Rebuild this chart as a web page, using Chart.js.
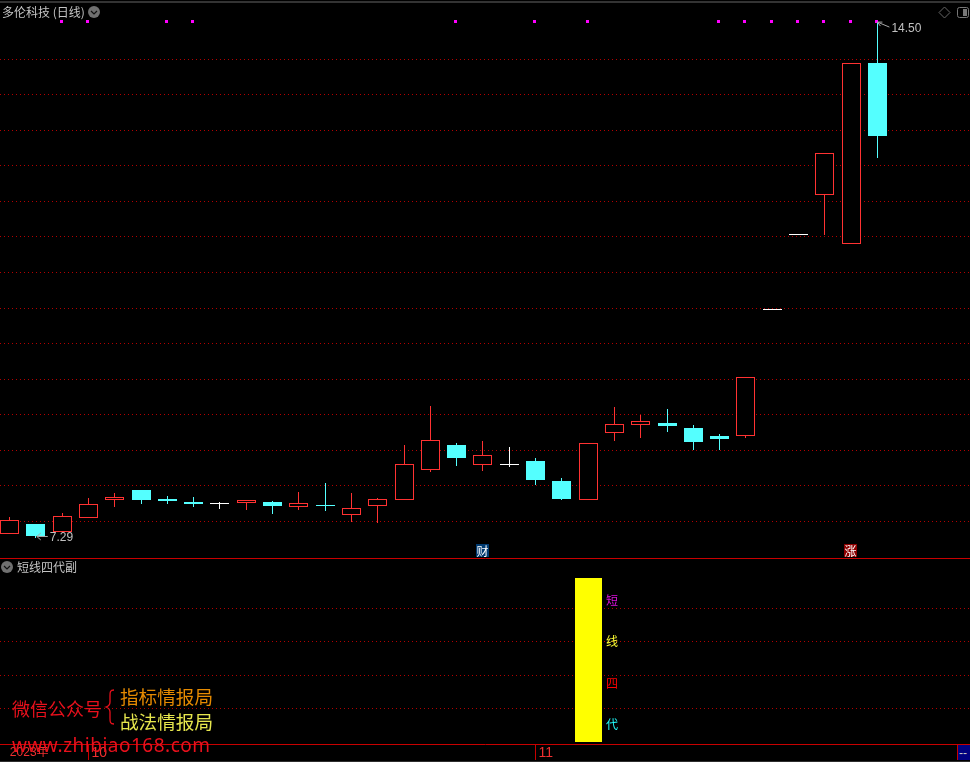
<!DOCTYPE html>
<html>
<head>
<meta charset="utf-8">
<title>多伦科技</title>
<script src="https://cdn.jsdelivr.net/npm/chart.js@4/dist/chart.umd.min.js"></script>
<style>
  html, body { margin: 0; padding: 0; background: #000; overflow: hidden; }
  #page { position: relative; width: 970px; height: 762px; background: #000; overflow: hidden; font-family: "Noto Sans CJK SC", sans-serif; }
  canvas { position: absolute; left: 0; display: block; }
  .txt { position: absolute; white-space: nowrap; line-height: 1; }
  .badge { position: absolute; width: 13px; height: 13px; color: #fff; font-size: 12px; line-height: 13px; text-align: center; }
  svg { position: absolute; overflow: visible; }
</style>
</head>
<body>
<div id="page">
  <canvas id="price-chart" width="970" height="559" style="top:0"></canvas>
  <canvas id="signal-chart" width="970" height="203" style="top:559px"></canvas>

  <div style="position:absolute;left:0;top:1px;width:970px;height:2px;background:#333"></div>
  <div style="position:absolute;left:0;top:761px;width:970px;height:1px;background:#2e2e2e"></div>

  <span class="txt" style="left:2px;top:6px;font-size:12px;color:#c4c4c4">多伦科技 (日线)</span>
  <svg style="left:88px;top:6px" width="12" height="12"><circle cx="6" cy="6" r="6" fill="#707070"/><path d="M3 5l3 3 3-3" fill="none" stroke="#111" stroke-width="1.2"/></svg>
  <svg style="left:939px;top:7px" width="11" height="11"><path d="M5.5 0L11 5.5 5.5 11 0 5.5z" fill="none" stroke="#666"/></svg>
  <svg style="left:957px;top:7px" width="12" height="11"><rect x=".5" y=".5" width="11" height="10" rx="2" fill="none" stroke="#777"/><rect x="6" y="2" width="4" height="7" fill="#777"/></svg>

  <div class="badge" style="left:476px;top:544px;background:#003a70">财</div>
  <div class="badge" style="left:844px;top:544px;background:#8b0000">涨</div>

  <svg style="left:1px;top:561px" width="12" height="12"><circle cx="6" cy="6" r="6" fill="#707070"/><path d="M3 5l3 3 3-3" fill="none" stroke="#111" stroke-width="1.2"/></svg>
  <span class="txt" style="left:17px;top:561px;font-size:12px;color:#c4c4c4">短线四代副</span>

  <span class="txt" style="left:606px;top:594px;font-size:12px;color:#e010e0">短</span>
  <span class="txt" style="left:606px;top:635px;font-size:12px;color:#ffff33">线</span>
  <span class="txt" style="left:606px;top:677px;font-size:12px;color:#ff0000">四</span>
  <span class="txt" style="left:606px;top:718px;font-size:12px;color:#22ffff">代</span>

  <span class="txt" style="left:12px;top:699px;font-size:18px;color:#e8101c">微信公众号</span>
  <svg style="left:105px;top:689px" width="10" height="36"><path d="M9 1C5 1 5 3 5 7V13C5 16 4 17 1 18 4 19 5 20 5 23V29C5 33 5 35 9 35" fill="none" stroke="#e8101c" stroke-width="1.3"/></svg>
  <span class="txt" style="left:120px;top:687px;font-size:18.6px;color:#e68a00">指标情报局</span>
  <span class="txt" style="left:120px;top:712px;font-size:18.6px;color:#e6e64d">战法情报局</span>
  <span class="txt" style="left:12px;top:736px;font-size:19px;letter-spacing:.5px;color:#e8101c;font-family:'Noto Sans',sans-serif">www.zhibiao168.com</span>

  <div style="position:absolute;left:957px;top:745px;width:13px;height:15px;background:#000080;border-left:1px solid #c80000;box-sizing:border-box"></div>
  <span class="txt" style="left:959px;top:747px;font-size:12px;color:#c8c8c8;font-family:'Liberation Sans',sans-serif">--</span>
</div>

<script>
const openPrices  = [7.35, 7.49, 7.37, 7.57, 7.82, 7.96, 7.83, 7.79, 7.76, 7.78, 7.79, 7.72, 7.75, 7.61, 7.74, 7.82, 8.24, 8.59, 8.31, 8.31, 8.36, 8.09, 7.82, 8.75, 8.87, 8.89, 8.82, 8.71, 8.71, 10.47, 11.52, 12.07, 11.39, 13.91];
const closePrices = [7.54, 7.32, 7.60, 7.76, 7.86, 7.82, 7.81, 7.76, 7.76, 7.82, 7.74, 7.78, 7.74, 7.71, 7.83, 8.32, 8.66, 8.41, 8.45, 8.31, 8.10, 7.83, 8.61, 8.88, 8.92, 8.85, 8.63, 8.67, 9.54, 10.47, 11.52, 12.66, 13.91, 12.90];
const highPrices  = [7.58, 7.49, 7.64, 7.85, 7.92, 7.96, 7.88, 7.86, 7.79, 7.82, 7.81, 7.93, 8.06, 7.92, 7.85, 8.59, 9.13, 8.61, 8.64, 8.56, 8.41, 8.13, 8.61, 9.12, 9.01, 9.09, 8.87, 8.74, 9.54, 10.47, 11.52, 12.66, 13.91, 14.50];
const lowPrices   = [7.35, 7.29, 7.36, 7.57, 7.72, 7.76, 7.76, 7.72, 7.69, 7.68, 7.62, 7.68, 7.67, 7.51, 7.50, 7.82, 8.21, 8.29, 8.22, 8.28, 8.03, 7.82, 7.82, 8.64, 8.68, 8.77, 8.52, 8.52, 8.68, 10.47, 11.52, 11.52, 11.39, 12.59];

const priceGrid = [7.52, 8.02, 8.51, 9.01, 9.50, 10.00, 10.49, 10.99, 11.49, 11.98, 12.48, 12.97, 13.47, 13.96];
const priceMin = 7.011, priceMax = 14.794;

const markerDays = [2, 3, 6, 7, 17, 20, 22, 27, 28, 29, 30, 31, 32, 33];
const markerLevel = 14.49;

const signalDays = [22];
const signalValues = [4.91];
const signalGrid = [1, 2, 3, 4];

const timeTickAt = [-0.1, 3, 20];
const timeTickText = ['2023年', '10', '11'];

const RED = '#ff3232', CYAN = '#54ffff', WHITE = '#ffffff', GRID = '#b40000', AXIS = '#c80000';

Chart.defaults.animation = false;
Chart.defaults.devicePixelRatio = 1;
Chart.defaults.responsive = false;

// the x axis is the same on both panels
const xMin = -0.3612, xMax = 36.52;
const days = openPrices.map((_, i) => i);
const candleColor = i => closePrices[i] > openPrices[i] ? RED : closePrices[i] < openPrices[i] ? CYAN : WHITE;

// keep bars and markers on whole pixels, the original is not antialiased
const snapPixels = {
    id: 'snapPixels',
    afterDatasetsUpdate(chart) {
        chart.data.datasets.forEach((ds, di) => {
            const meta = chart.getDatasetMeta(di);
            meta.data.forEach(el => {
                if (meta.type === 'bar') {
                    el.x = Math.round(el.x - el.width / 2) + el.width / 2;
                    el.y = Math.round(el.y);
                    el.base = Math.round(el.base);
                } else {
                    el.x = Math.floor(el.x) - 0.5;
                    el.y = Math.floor(el.y) + 0.5;
                }
            });
        });
    }
};

// high / low price notes
const extremeLabels = {
    id: 'extremeLabels',
    afterDraw(chart) {
        const { ctx, scales: { x, y } } = chart;
        const low = Math.min(...lowPrices), high = Math.max(...highPrices);
        const lowX = x.getPixelForValue(lowPrices.indexOf(low)), lowY = y.getPixelForValue(low);
        const highX = x.getPixelForValue(highPrices.indexOf(high)), highY = y.getPixelForValue(high);
        ctx.save();
        ctx.strokeStyle = '#a8a8a8';
        ctx.fillStyle = '#c0c0c0';
        ctx.lineWidth = 1;
        ctx.font = '12px "Liberation Sans"';
        ctx.textBaseline = 'middle';
        ctx.beginPath();
        ctx.moveTo(lowX + 12, lowY - 1.5);
        ctx.lineTo(lowX + 1, lowY - 1.5);
        ctx.moveTo(lowX + 5, lowY - 5);
        ctx.lineTo(lowX + 1, lowY - 1.5);
        ctx.lineTo(lowX + 5, lowY + 2);
        ctx.moveTo(highX, highY + 1);
        ctx.lineTo(highX + 12, highY + 6);
        ctx.moveTo(highX, highY + 1);
        ctx.lineTo(highX + 5, highY + 1);
        ctx.moveTo(highX, highY + 1);
        ctx.lineTo(highX + 3, highY + 5);
        ctx.stroke();
        ctx.fillText(low.toFixed(2), lowX + 14, lowY);
        ctx.fillText(high.toFixed(2), highX + 14, highY + 8);
        ctx.restore();
    }
};

const xAxis = extra => Object.assign({
    type: 'linear', min: xMin, max: xMax, offset: false,
    grid: { display: false, offset: false, drawTicks: false },
    ticks: { display: false },
    border: { display: true, color: AXIS, width: 1 },
    afterFit: s => { s.height = 1; }
}, extra);

const yAxis = (min, max, gridValues) => ({
    type: 'linear', min, max,
    grid: { color: GRID, lineWidth: 1, drawTicks: false },
    border: { display: false, dash: [1, 3] },
    ticks: { display: false },
    afterBuildTicks: s => { s.ticks = gridValues.map(value => ({ value })); },
    afterFit: s => { s.width = 0; }
});

new Chart(document.getElementById('price-chart'), {
    type: 'bar',
    data: {
        datasets: [
            {
                type: 'scatter', data: markerDays.map(i => ({ x: i, y: markerLevel })),
                pointStyle: 'rect', pointRadius: 2.13, borderWidth: 0, backgroundColor: '#ff00ff', order: 0
            },
            {
                data: days.map(i => ({ x: i, y: [Math.max(openPrices[i], closePrices[i]), highPrices[i]] })),
                backgroundColor: days.map(candleColor), barThickness: 1, grouped: false, inflateAmount: 0, order: 2
            },
            {
                data: days.map(i => ({ x: i, y: [lowPrices[i], Math.min(openPrices[i], closePrices[i])] })),
                backgroundColor: days.map(candleColor), barThickness: 1, grouped: false, inflateAmount: 0, order: 2
            },
            {
                data: days.map(i => ({ x: i, y: [openPrices[i], closePrices[i]] })),
                backgroundColor: days.map(i => closePrices[i] > openPrices[i] ? '#000000' : candleColor(i)),
                borderColor: days.map(candleColor),
                borderWidth: 1, borderSkipped: false, minBarLength: 1,
                barThickness: 19, grouped: false, inflateAmount: 0, order: 1
            }
        ]
    },
    options: {
        layout: { padding: 0, autoPadding: false },
        plugins: { legend: { display: false }, tooltip: { enabled: false } },
        scales: { x: xAxis(), y: yAxis(priceMin, priceMax, priceGrid) }
    },
    plugins: [snapPixels, extremeLabels]
});

new Chart(document.getElementById('signal-chart'), {
    type: 'bar',
    data: {
        datasets: [{
            data: signalDays.map((d, i) => ({ x: d, y: signalValues[i] })),
            backgroundColor: '#ffff00', borderColor: '#000000',
            borderWidth: { left: 2, right: 2, top: 0, bottom: 0 }, borderSkipped: false,
            barThickness: 31, inflateAmount: 0
        }]
    },
    options: {
        layout: { padding: 0, autoPadding: false },
        plugins: { legend: { display: false }, tooltip: { enabled: false } },
        scales: {
            x: xAxis({
                grid: {
                    display: true, drawOnChartArea: false, drawTicks: true, offset: false, tickLength: 16, tickWidth: 1,
                    tickColor: c => c.index === 0 ? 'transparent' : AXIS
                },
                ticks: {
                    display: true, autoSkip: false, maxRotation: 0, align: 'start', labelOffset: 3, padding: -15,
                    color: '#f03030',
                    font: c => ({ family: '"Liberation Sans","Noto Sans CJK SC"', size: c.index === 0 ? 12 : 14 }),
                    callback: v => timeTickText[timeTickAt.indexOf(v)]
                },
                afterBuildTicks: s => { s.ticks = timeTickAt.map(value => ({ value })); },
                afterFit: s => { s.height = 18; }
            }),
            y: yAxis(-0.07, 5.48, signalGrid)
        }
    },
    plugins: [snapPixels]
});
</script>
</body>
</html>
